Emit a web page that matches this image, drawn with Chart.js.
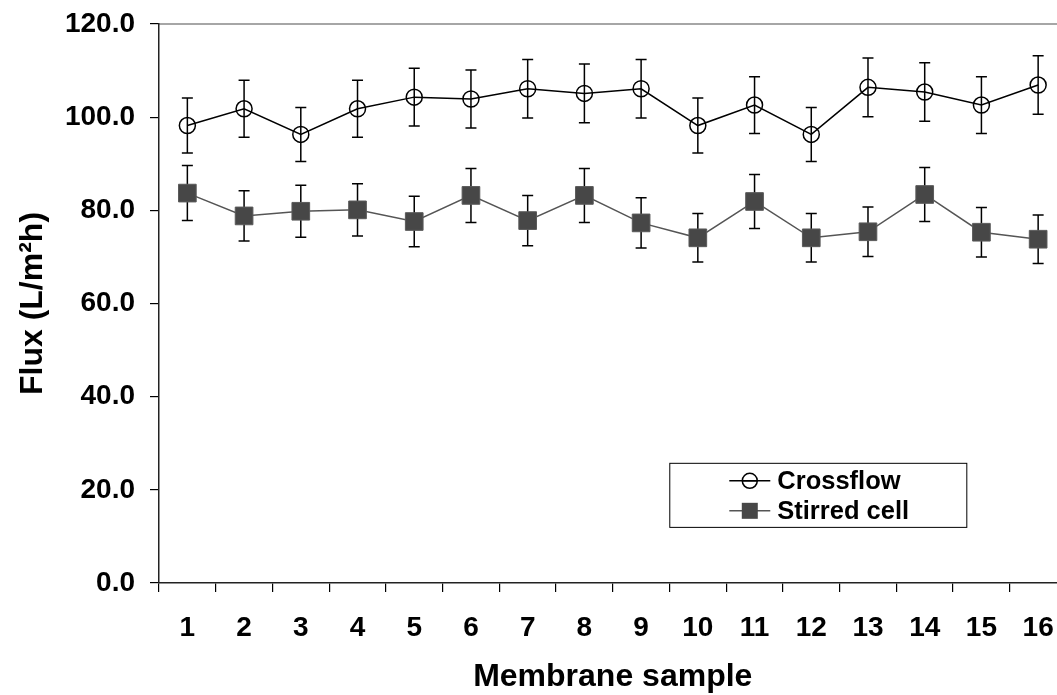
<!DOCTYPE html>
<html>
<head>
<meta charset="utf-8">
<script src="https://cdn.jsdelivr.net/npm/chart.js@4.4.1/dist/chart.umd.min.js"></script>
<style>
  html, body { margin: 0; padding: 0; background: #fff; overflow: hidden; }
  #wrap { width: 1080px; height: 695px; }
</style>
</head>
<body>
<div id="wrap"><canvas id="flux"></canvas></div>
<script>
const samples = ["1", "2", "3", "4", "5", "6", "7", "8", "9", "10", "11", "12", "13", "14", "15", "16"];

const crossflow    = [98.2, 101.8, 96.3, 101.8, 104.3, 103.9, 106.1, 105.1, 106.1, 98.2, 102.6, 96.3, 106.4, 105.4, 102.6, 106.9];
const crossflowErr = [5.9, 6.1, 5.8, 6.1, 6.2, 6.2, 6.3, 6.3, 6.3, 5.9, 6.1, 5.8, 6.3, 6.3, 6.1, 6.3];

const stirred    = [83.7, 78.8, 79.8, 80.1, 77.6, 83.2, 77.8, 83.2, 77.3, 74.1, 81.9, 74.1, 75.4, 83.4, 75.3, 73.8];
const stirredErr = [5.9, 5.4, 5.6, 5.6, 5.4, 5.8, 5.4, 5.8, 5.4, 5.2, 5.8, 5.2, 5.3, 5.8, 5.3, 5.2];

const yMin = 0, yMax = 120, yStep = 20;

const FONT = "'Liberation Sans', Arial, Helvetica, sans-serif";
const STIRRED_FILL = "#474747";
const STIRRED_LINE = "#555555";

// error bars go under the markers so the squares hide the stems
const errorBars = {
    id: "errorBars",
    beforeDatasetsDraw(chart) {
        const ctx = chart.ctx;
        const y = chart.scales.y;
        ctx.save();
        ctx.strokeStyle = "#000";
        ctx.lineWidth = 1.5;
        chart.data.datasets.forEach((ds, i) => {
            const meta = chart.getDatasetMeta(i);
            meta.data.forEach((pt, j) => {
                const top = y.getPixelForValue(ds.data[j] + ds.errors[j]);
                const bot = y.getPixelForValue(ds.data[j] - ds.errors[j]);
                ctx.beginPath();
                ctx.moveTo(pt.x, top); ctx.lineTo(pt.x, bot);
                ctx.moveTo(pt.x - 5.5, top); ctx.lineTo(pt.x + 5.5, top);
                ctx.moveTo(pt.x - 5.5, bot); ctx.lineTo(pt.x + 5.5, bot);
                ctx.stroke();
            });
        });
        ctx.restore();
    }
};

// top border of the plot area + legend box inside the plot
const frameAndLegend = {
    id: "frameAndLegend",
    beforeDraw(chart) {
        const { ctx, chartArea: a } = chart;
        ctx.save();
        ctx.strokeStyle = "#888";
        ctx.lineWidth = 1.5;
        ctx.beginPath();
        ctx.moveTo(a.left, a.top);
        ctx.lineTo(a.right, a.top);
        ctx.stroke();
        ctx.restore();
    },
    afterDraw(chart) {
        const { ctx, chartArea: a } = chart;
        const w = a.right - a.left, h = a.bottom - a.top;
        const bx = a.left + w * 0.5623, by = a.top + h * 0.785;
        const bw = w * 0.3273, bh = h * 0.1146;

        ctx.save();
        ctx.fillStyle = "#fff";
        ctx.fillRect(bx, by, bw, bh);
        ctx.strokeStyle = "#000";
        ctx.lineWidth = 1;
        ctx.strokeRect(bx + 0.5, by + 0.5, bw, bh);

        ctx.font = "bold 25.5px " + FONT;
        ctx.textBaseline = "middle";
        ctx.textAlign = "left";

        chart.data.datasets.forEach((ds, i) => {
            const ry = by + 18 + i * 30;
            const x0 = bx + 60, x1 = bx + 101, mx = (x0 + x1) / 2;
            ctx.strokeStyle = ds.borderColor;
            ctx.lineWidth = 1.5;
            ctx.beginPath();
            ctx.moveTo(x0, ry); ctx.lineTo(x1, ry);
            ctx.stroke();
            if (ds.pointStyle === "circle") {
                ctx.strokeStyle = "#000";
                ctx.beginPath();
                ctx.arc(mx, ry, 7.5, 0, Math.PI * 2);
                ctx.stroke();
                ctx.beginPath();
                ctx.moveTo(mx - 7.5, ry); ctx.lineTo(mx + 7.5, ry);
                ctx.stroke();
            } else {
                ctx.fillStyle = ds.pointBackgroundColor;
                ctx.fillRect(mx - 8, ry - 8, 16, 16);
            }
            ctx.fillStyle = "#000";
            ctx.fillText(ds.label, bx + 108, ry + 1);
        });
        ctx.restore();
    }
};

const ctx = document.getElementById("flux").getContext("2d");
const chart = new Chart(ctx, {
    type: "line",
    data: {
        labels: samples,
        datasets: [
            {
                label: "Crossflow",
                data: crossflow,
                errors: crossflowErr,
                borderColor: "#000",
                borderWidth: 1.5,
                pointStyle: "circle",
                pointRadius: 8,
                pointBorderWidth: 1.5,
                pointBorderColor: "#000",
                pointBackgroundColor: "rgba(0,0,0,0)",
                tension: 0
            },
            {
                label: "Stirred cell",
                data: stirred,
                errors: stirredErr,
                borderColor: STIRRED_LINE,
                borderWidth: 1.5,
                pointStyle: "rect",
                pointRadius: 12.5,
                pointBorderWidth: 1,
                pointBorderColor: "#5a5a5a",
                pointBackgroundColor: STIRRED_FILL,
                tension: 0
            }
        ]
    },
    options: {
        responsive: true,
        maintainAspectRatio: false,
        animation: false,
        layout: { padding: { left: 0, top: 24, right: 6.5, bottom: 0 } },
        plugins: {
            legend: { display: false },
            tooltip: { enabled: false }
        },
        scales: {
            x: {
                offset: true,
                grid: {
                    offset: true,
                    drawOnChartArea: false,
                    drawTicks: true,
                    tickLength: 9,
                    color: "#000",
                    lineWidth: 1.2
                },
                border: { color: "#222", width: 1.5 },
                ticks: {
                    color: "#000",
                    font: { family: FONT, size: 28, weight: "bold" },
                    padding: 19,
                    maxRotation: 0,
                    autoSkip: false
                },
                title: {
                    display: true,
                    text: "Membrane sample",
                    color: "#000",
                    font: { family: FONT, size: 32, weight: "bold", lineHeight: 1 },
                    padding: { top: 0, bottom: 2 }
                },
                afterFit(scale) {
                    scale.height = 112;
                    scale.paddingLeft = 0;
                    scale.paddingRight = 0;
                }
            },
            y: {
                min: yMin,
                max: yMax,
                grid: {
                    drawOnChartArea: false,
                    drawTicks: true,
                    tickLength: 9,
                    color: "#000",
                    lineWidth: 1.2
                },
                border: { color: "#222", width: 1.5 },
                ticks: {
                    stepSize: yStep,
                    color: "#000",
                    font: { family: FONT, size: 28, weight: "bold" },
                    padding: 15,
                    callback: v => v.toFixed(1)
                },
                title: {
                    display: true,
                    text: "Flux (L/m²h)",
                    color: "#000",
                    font: { family: FONT, size: 32, weight: "bold", lineHeight: 1 },
                    padding: { top: 17, bottom: 0 }
                },
                afterFit(scale) {
                    scale.width = 159;
                    scale.paddingTop = 0;
                    scale.paddingBottom = 0;
                }
            }
        }
    },
    plugins: [errorBars, frameAndLegend]
});
</script>
</body>
</html>
